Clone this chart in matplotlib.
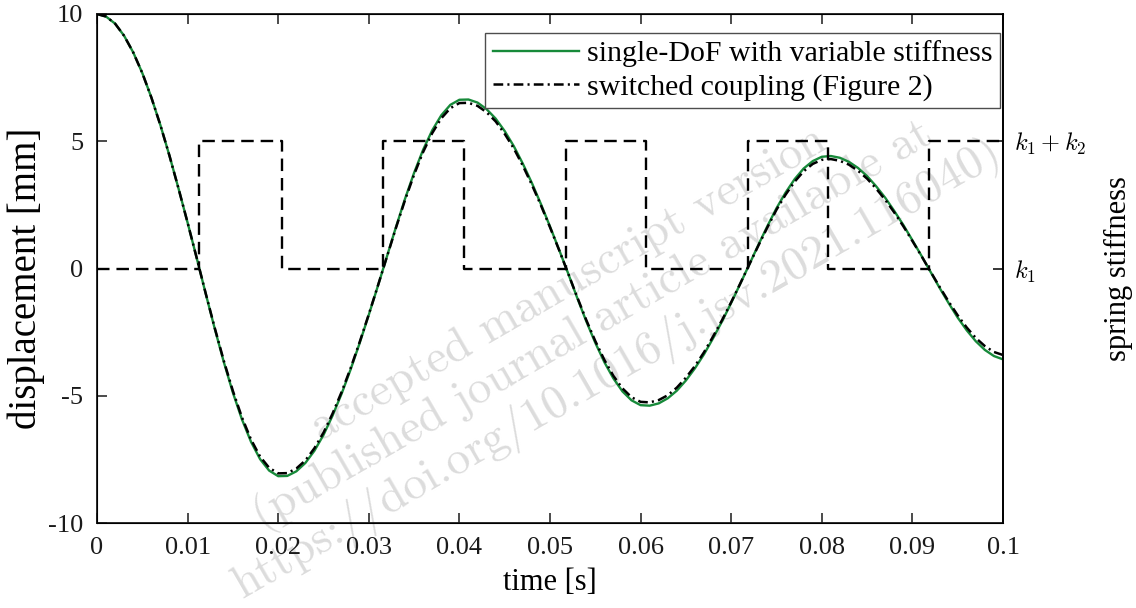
import numpy as np
import matplotlib
matplotlib.use('Agg')
import matplotlib.pyplot as plt

plt.rcParams['font.family'] = ['Liberation Serif', 'DejaVu Serif']
plt.rcParams['mathtext.fontset'] = 'cm'
plt.rcParams['lines.scale_dashes'] = False

# time samples [s]
t = np.linspace(0, 0.1, 101)

# displacement [mm], single-DoF model with variable stiffness
disp_sdof = [10.0, 9.90, 9.62, 9.14, 8.49, 7.68, 6.72, 5.63, 4.43, 3.14, 1.80, 0.42,
             -0.99, -2.37, -3.68, -4.88, -5.93, -6.81, -7.49, -7.94, -8.16,
             -8.15, -7.97, -7.64, -7.16, -6.54, -5.78, -4.92, -3.96, -2.92, -1.82, -0.69,
             0.47, 1.63, 2.74, 3.76, 4.67, 5.43, 6.02, 6.43, 6.63,
             6.64, 6.52, 6.26, 5.89, 5.40, 4.81, 4.12, 3.36, 2.53, 1.65, 0.74,
             -0.19, -1.15, -2.07, -2.92, -3.68, -4.32, -4.83, -5.18, -5.37,
             -5.39, -5.30, -5.10, -4.80, -4.40, -3.92, -3.37, -2.74, -2.07, -1.35, -0.60,
             0.16, 0.93, 1.67, 2.37, 2.98, 3.51, 3.93, 4.22, 4.39,
             4.42, 4.35, 4.19, 3.95, 3.63, 3.23, 2.78, 2.26, 1.71, 1.11, 0.50,
             -0.13, -0.76, -1.36, -1.93, -2.43, -2.86, -3.20, -3.44, -3.57]

# displacement [mm], switched coupling (Figure 2)
disp_switched = [10.0, 9.90, 9.62, 9.14, 8.49, 7.68, 6.72, 5.63, 4.43, 3.14, 1.80, 0.42,
                 -0.98, -2.34, -3.63, -4.81, -5.85, -6.72, -7.39, -7.83, -8.05,
                 -8.04, -7.86, -7.54, -7.06, -6.45, -5.70, -4.85, -3.91, -2.88, -1.80, -0.68,
                 0.46, 1.60, 2.69, 3.69, 4.58, 5.32, 5.90, 6.30, 6.50,
                 6.51, 6.39, 6.14, 5.78, 5.29, 4.72, 4.04, 3.29, 2.48, 1.62, 0.73,
                 -0.19, -1.12, -2.02, -2.85, -3.59, -4.22, -4.71, -5.06, -5.24,
                 -5.26, -5.17, -4.98, -4.68, -4.29, -3.83, -3.29, -2.67, -2.02, -1.32, -0.59,
                 0.16, 0.90, 1.62, 2.31, 2.90, 3.41, 3.82, 4.11, 4.27,
                 4.30, 4.23, 4.08, 3.84, 3.53, 3.14, 2.70, 2.20, 1.66, 1.08, 0.49,
                 -0.12, -0.72, -1.30, -1.84, -2.32, -2.73, -3.05, -3.28, -3.40]

# stiffness switching instants [s] and state (0 = k1, 1 = k1 + k2)
switch_t = [0.0, 0.0113, 0.0204, 0.0316, 0.0405, 0.0518, 0.0606, 0.0718, 0.0807, 0.0918, 0.1]
stiff_state = [0, 1, 0, 1, 0, 1, 0, 1, 0, 1, 1]

xticks = [0, 0.01, 0.02, 0.03, 0.04, 0.05, 0.06, 0.07, 0.08, 0.09, 0.1]
xticklabels = ['0', '0.01', '0.02', '0.03', '0.04', '0.05', '0.06', '0.07', '0.08', '0.09', '0.1']
yticks = [-10, -5, 0, 5, 10]
yticklabels = ['-10', '-5', '0', '5', '10']
stiff_labels = [r'$k_1$', r'$k_1+k_2$']

fig = plt.figure(figsize=(11.36, 6.08), dpi=100)
ax = fig.add_axes([97/1136, 85/608, 906/1136, 509/608])
ax.patch.set_alpha(0)

ax.plot(t, disp_sdof, color='#178a3a', lw=1.7, label='single-DoF with variable stiffness')
ax.plot(t, disp_switched, color='k', lw=1.8, ls=(0, (7, 3, 1.5, 3)),
        label='switched coupling (Figure 2)')

ax.set_xlim(0, 0.1)
ax.set_ylim(-10, 10)
ax.set_xticks(xticks)
ax.set_xticklabels(xticklabels)
ax.set_yticks(yticks)
ax.set_yticklabels(yticklabels)
ax.tick_params(direction='in', length=7, width=1.1, top=True, right=False,
               labelsize=19, pad=10, colors='0.1')
for s in ax.spines.values():
    s.set_linewidth(1.3)
    s.set_color('0.1')

ax.set_xlabel('time [s]', fontsize=22)
ax.xaxis.set_label_coords(0.5, -0.088)
ax.set_ylabel('displacement [mm]', fontsize=28)
ax.yaxis.set_label_coords(-0.057, 0.48)

ax2 = ax.twinx()
ax2.step(switch_t, stiff_state, where='post', color='k', lw=1.7, ls=(0, (9, 5)))
ax2.set_ylim(-2, 2)
ax2.set_yticks([0, 1])
ax2.set_yticklabels(stiff_labels)
ax2.tick_params(direction='in', length=7, width=1.1, labelsize=17.5, pad=8)
ax2.spines['right'].set_linewidth(1.3)
ax2.set_ylabel('spring stiffness', fontsize=22)
ax2.yaxis.set_label_coords(1.112, 0.5)

h, l = ax.get_legend_handles_labels()
leg = ax2.legend(h, l, loc='upper right', bbox_to_anchor=(0.9967, 0.9627),
                 fontsize=21.5, frameon=True, fancybox=False, edgecolor='0.3',
                 framealpha=1, borderaxespad=0, borderpad=0.25, labelspacing=0.2,
                 handlelength=2.9, handletextpad=0.25)
leg.get_frame().set_linewidth(1.0)

fig.text(594/1136, 1 - 328/608,
         'accepted manuscript version\n(published journal article available at\n'
         'https://doi.org/10.1016/j.jsv.2021.116040)',
         rotation=30, rotation_mode='anchor', ha='center', va='center',
         multialignment='center', fontsize=34, family='cmr10', color='#dcdcdc',
         zorder=-1, linespacing=1.1)

fig.savefig('out.png', dpi=100)
